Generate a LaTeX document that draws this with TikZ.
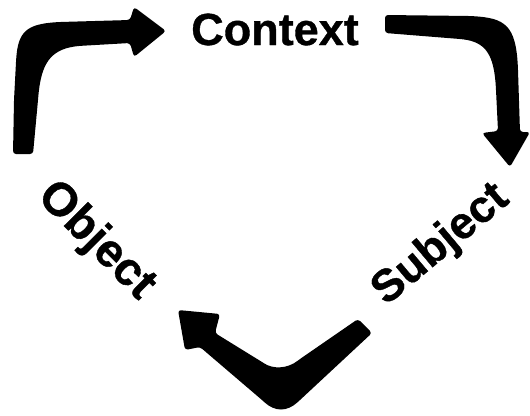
\documentclass[tikz,border=0pt]{standalone}
\usepackage{fontspec}
\setmainfont{Liberation Sans}[BoldFeatures={FakeBold=0.8}]
\begin{document}
\begin{tikzpicture}[x=1pt,y=-1pt]
\tikzset{
  bigarrow/.style={fill=black, rounded corners=3pt},
  lbl/.style={font=\fontsize{45}{45}\selectfont\bfseries, inner sep=0pt}
}
\useasboundingbox (0,0) rectangle (530,415);

% Object -> Context
\fill[bigarrow] (13,154) -- (14,100) -- (16,62)
  .. controls (18,32) and (26,24) .. (60,22) -- (130,20)
  -- (134,7) -- (166,31) -- (134,57) -- (130,43) -- (78,46)
  .. controls (50,50) and (41,64) .. (38,100) -- (33,154) -- cycle;

% Context -> Subject
\fill[bigarrow] (385,15) -- (470,16)
  .. controls (505,18) and (516,25) .. (518,70) -- (520,132)
  -- (530,132) -- (510,167) -- (482,133) -- (498,131) -- (496,90)
  .. controls (494,55) and (486,42) .. (460,39) -- (385,33) -- cycle;

% Subject -> Object
\fill[bigarrow] (372,333) -- (300,400)
  .. controls (287,412) and (275,412) .. (262,400) -- (200,347)
  -- (185,350) -- (178,310) -- (220,314) -- (215,333) -- (262,362)
  .. controls (273,369) and (287,369) .. (300,359) -- (358,319) -- cycle;

\node[lbl, anchor=base] (context) at (275,45) {Context};
\node[lbl, rotate=-45, scale=1.04] (object) at (96,241) {Object};
\node[lbl, rotate=40] (subject) at (441,245) {Subject};
\end{tikzpicture}
\end{document}
